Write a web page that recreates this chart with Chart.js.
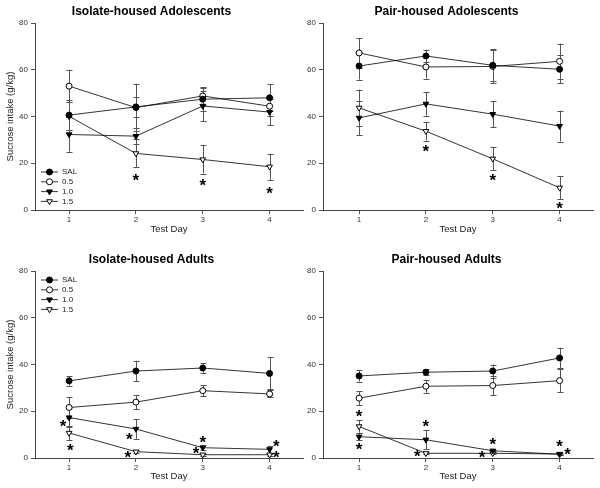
<!DOCTYPE html>
<html><head><meta charset="utf-8">
<script src="https://cdn.jsdelivr.net/npm/chart.js@4/dist/chart.umd.min.js"></script>
<style>
body{margin:0;background:#fff;width:600px;height:488px;position:relative;overflow:hidden}
.p{position:absolute}
</style></head><body>
<div class="p" style="left:0;top:0"><canvas id="c1" width="310" height="244"></canvas></div>
<div class="p" style="left:300px;top:0"><canvas id="c2" width="300" height="244"></canvas></div>
<div class="p" style="left:0;top:244px"><canvas id="c3" width="310" height="244"></canvas></div>
<div class="p" style="left:300px;top:244px"><canvas id="c4" width="300" height="244"></canvas></div>
<script>
const days = [1, 2, 3, 4];
const doses = ['SAL', '0.5', '1.0', '1.5'];
const yTicks = [0, 20, 40, 60, 80];

// Isolate-housed Adolescents
const isoAdolSAL = [40.6, 44.1, 47.4, 48.0];
const isoAdolSALErr = [6.5, 4.2, 5.0, 5.7];
const isoAdol05 = [53.0, 43.8, 48.8, 44.4];
const isoAdol05Err = [7.0, 10.2, 3.8, 4.0];
const isoAdol10 = [32.3, 31.6, 44.5, 41.9];
const isoAdol10Err = [7.3, 3.4, 6.5, 5.7];
const isoAdol15 = [40.1, 24.2, 21.6, 18.5];
const isoAdol15Err = [6.0, 6.0, 6.0, 5.6];
const isoAdolStars = [[2, 13.8], [3, 11.7], [4, 8.5]];

// Pair-housed Adolescents
const pairAdolSAL = [61.6, 65.9, 61.9, 60.2];
const pairAdolSALErr = [5.8, 2.7, 6.8, 6.0];
const pairAdol05 = [67.2, 61.2, 61.4, 63.6];
const pairAdol05Err = [6.4, 5.0, 7.0, 7.6];
const pairAdol10 = [39.4, 45.4, 41.0, 35.9];
const pairAdol10Err = [7.4, 5.0, 5.7, 6.6];
const pairAdol15 = [43.7, 33.7, 21.9, 9.5];
const pairAdol15Err = [7.8, 4.0, 5.0, 5.0];
const pairAdolStars = [[2, 26.3], [3, 14.0], [4, 1.9]];

// Isolate-housed Adults
const isoAdultSAL = [33.0, 37.2, 38.5, 36.2];
const isoAdultSALErr = [2.0, 4.4, 2.0, 6.8];
const isoAdult05 = [21.6, 23.9, 28.8, 27.4];
const isoAdult05Err = [4.5, 3.0, 2.3, 1.5];
const isoAdult10 = [17.3, 12.4, 4.4, 3.7];
const isoAdult10Err = [4.0, 4.2, 1.0, 1.5];
const isoAdult15 = [10.7, 2.7, 1.4, 1.4];
const isoAdult15Err = [3.0, 0.7, 0.5, 0.5];
const isoAdultStars = [[0.91, 14.9], [1.02, 4.7], [1.9, 9.4], [1.88, 1.3], [3.0, 8.0], [2.9, 3.0], [4.1, 6.1], [4.1, 1.6]];

// Pair-housed Adults
const pairAdultSAL = [35.1, 36.7, 37.2, 42.8];
const pairAdultSALErr = [2.4, 1.3, 2.8, 4.4];
const pairAdult05 = [25.6, 30.7, 31.0, 33.1];
const pairAdult05Err = [3.0, 2.8, 4.2, 4.8];
const pairAdult10 = [9.1, 7.8, 3.1, 1.6];
const pairAdult10Err = [1.5, 4.0, 0.5, 0.3];
const pairAdult15 = [13.5, 2.0, 2.0, 1.7];
const pairAdult15Err = [2.7, 0.5, 0.5, 0.5];
const pairAdultStars = [[1, 19.2], [1, 4.8], [2, 14.6], [1.87, 1.8], [3, 7.0], [2.84, 1.6], [4, 6.0], [4.12, 2.6]];

const FONT = "'Liberation Sans', Arial, sans-serif";
const markerStyles = [
  {pointStyle: 'circle', rotation: 0, fill: '#000', radius: 3},
  {pointStyle: 'circle', rotation: 0, fill: '#fff', radius: 3},
  {pointStyle: 'triangle', rotation: 180, fill: '#000', radius: 3.3},
  {pointStyle: 'triangle', rotation: 180, fill: '#fff', radius: 3.3}
];

const errorBarPlugin = {
  id: 'errorBars',
  beforeDatasetsDraw(chart) {
    const {ctx, scales: {x, y}} = chart;
    ctx.save();
    ctx.strokeStyle = '#555';
    ctx.lineWidth = 1;
    chart.data.datasets.forEach(ds => {
      ds.data.forEach((p, i) => {
        const e = ds.errors[i];
        const px = Math.round(x.getPixelForValue(p.x)) + 0.5;
        const y1 = y.getPixelForValue(p.y + e);
        const y2 = y.getPixelForValue(p.y - e);
        ctx.beginPath();
        ctx.moveTo(px, y1); ctx.lineTo(px, y2);
        ctx.moveTo(px - 3, Math.round(y1) + 0.5); ctx.lineTo(px + 3, Math.round(y1) + 0.5);
        ctx.moveTo(px - 3, Math.round(y2) + 0.5); ctx.lineTo(px + 3, Math.round(y2) + 0.5);
        ctx.stroke();
      });
    });
    ctx.restore();
  }
};

const starPlugin = {
  id: 'stars',
  afterDatasetsDraw(chart, args, opts) {
    const {ctx, scales: {x, y}} = chart;
    ctx.save();
    ctx.fillStyle = '#000';
    ctx.font = 'bold 17px ' + FONT;
    ctx.textAlign = 'center';
    ctx.textBaseline = 'alphabetic';
    const m = ctx.measureText('*');
    const off = (m.actualBoundingBoxAscent - m.actualBoundingBoxDescent) / 2;
    (opts.points || []).forEach(([sx, sy]) => {
      ctx.fillText('*', x.getPixelForValue(sx), y.getPixelForValue(sy) + off);
    });
    ctx.restore();
  }
};

const legendPlugin = {
  id: 'insideLegend',
  afterDraw(chart, args, opts) {
    if (!opts.show) return;
    const {ctx} = chart;
    ctx.save();
    chart.data.datasets.forEach((ds, i) => {
      const yy = opts.top + i * opts.step;
      ctx.strokeStyle = '#000';
      ctx.lineWidth = 0.8;
      ctx.beginPath();
      ctx.moveTo(opts.left, yy); ctx.lineTo(opts.left + 17, yy);
      ctx.stroke();
      const ms = markerStyles[i];
      ctx.fillStyle = ms.fill;
      ctx.strokeStyle = '#000';
      ctx.lineWidth = 1;
      Chart.helpers.drawPoint(ctx, {pointStyle: ms.pointStyle, rotation: ms.rotation, radius: ms.radius, borderWidth: 1}, opts.left + 8.5, yy);
      ctx.fillStyle = '#222';
      ctx.font = '8px ' + FONT;
      ctx.textAlign = 'left';
      ctx.textBaseline = 'middle';
      ctx.fillText(ds.label, opts.left + 21, yy);
    });
    ctx.restore();
  }
};

function makeChart(id, title, series, errs, stars, o) {
  const datasets = series.map((s, i) => ({
    label: doses[i],
    data: days.map((d, j) => ({x: d, y: s[j]})),
    errors: errs[i],
    borderColor: '#000',
    borderWidth: 0.8,
    pointStyle: markerStyles[i].pointStyle,
    rotation: markerStyles[i].rotation,
    pointRadius: markerStyles[i].radius,
    pointBackgroundColor: markerStyles[i].fill,
    pointBorderColor: '#000',
    pointBorderWidth: 1,
    showLine: true,
    fill: false,
    tension: 0
  }));
  return new Chart(document.getElementById(id), {
    type: 'scatter',
    data: {datasets},
    plugins: [errorBarPlugin, starPlugin, legendPlugin],
    options: {
      responsive: false,
      animation: false,
      devicePixelRatio: 1,
      layout: {padding: {left: 0, right: o.padRight, top: 0, bottom: 0}},
      plugins: {
        legend: {display: false},
        tooltip: {enabled: false},
        title: {
          display: true, text: title, color: '#000',
          font: {family: FONT, size: 12, weight: 'bold', lineHeight: 1.2},
          padding: {top: o.titleTop, bottom: o.titleBottom}
        },
        stars: {points: stars},
        insideLegend: {show: o.legend, left: 41, top: o.legendTop, step: 9.8}
      },
      scales: {
        x: {
          type: 'linear', min: o.xMin, max: 4.5,
          afterBuildTicks: s => { s.ticks = days.map(v => ({value: v})); },
          afterFit: s => { s.height = o.xHeight; },
          grid: {display: true, drawOnChartArea: false, drawTicks: true, tickLength: 4, color: '#555', lineWidth: 1},
          border: {display: true, color: '#444', width: 1},
          ticks: {color: '#333', font: {family: FONT, size: 8}, padding: 1, maxRotation: 0},
          title: {display: true, text: 'Test Day', color: '#222', font: {family: FONT, size: 9.5}, padding: {top: 0, bottom: o.xTitlePad}}
        },
        y: {
          min: 0, max: 80,
          afterBuildTicks: s => { s.ticks = yTicks.map(v => ({value: v})); },
          afterFit: s => { s.width = o.yWidth; },
          grid: {display: true, drawOnChartArea: false, drawTicks: true, tickLength: 4, color: '#555', lineWidth: 1},
          border: {display: true, color: '#444', width: 1},
          ticks: {color: '#333', font: {family: FONT, size: 8}, padding: 3},
          title: {display: o.yTitle, text: 'Sucrose intake (g/kg)', color: '#222', font: {family: FONT, size: 9.5}, padding: {top: 4.5, bottom: 0}}
        }
      }
    }
  });
}

makeChart('c1', 'Isolate-housed Adolescents',
  [isoAdolSAL, isoAdol05, isoAdol10, isoAdol15],
  [isoAdolSALErr, isoAdol05Err, isoAdol10Err, isoAdol15Err], isoAdolStars,
  {padRight: 7, titleTop: 4, titleBottom: 4.6, xHeight: 34, xTitlePad: 9.3, yWidth: 35, yTitle: true, legend: true, legendTop: 172, xMin: 0.49});
makeChart('c2', 'Pair-housed Adolescents',
  [pairAdolSAL, pairAdol05, pairAdol10, pairAdol15],
  [pairAdolSALErr, pairAdol05Err, pairAdol10Err, pairAdol15Err], pairAdolStars,
  {padRight: 7, titleTop: 4, titleBottom: 4.6, xHeight: 34, xTitlePad: 9.3, yWidth: 23, yTitle: false, legend: false, legendTop: 0, xMin: 0.46});
makeChart('c3', 'Isolate-housed Adults',
  [isoAdultSAL, isoAdult05, isoAdult10, isoAdult15],
  [isoAdultSALErr, isoAdult05Err, isoAdult10Err, isoAdult15Err], isoAdultStars,
  {padRight: 7, titleTop: 8, titleBottom: 4.6, xHeight: 30, xTitlePad: 6.3, yWidth: 35, yTitle: true, legend: true, legendTop: 36, xMin: 0.49});
makeChart('c4', 'Pair-housed Adults',
  [pairAdultSAL, pairAdult05, pairAdult10, pairAdult15],
  [pairAdultSALErr, pairAdult05Err, pairAdult10Err, pairAdult15Err], pairAdultStars,
  {padRight: 7, titleTop: 8, titleBottom: 4.6, xHeight: 30, xTitlePad: 6.3, yWidth: 23, yTitle: false, legend: false, legendTop: 0, xMin: 0.46});
</script>
</body></html>
